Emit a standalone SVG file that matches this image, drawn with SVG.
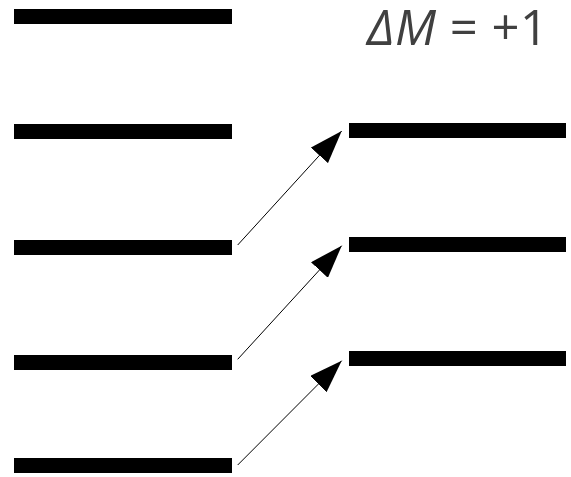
<svg xmlns="http://www.w3.org/2000/svg" width="571" height="477" viewBox="0 0 571 477">
<style>
.lvl{fill:#000;}
.arr{stroke:#000;stroke-width:1;fill:none;marker-end:url(#ah);}
.lbl{font-family:"Open Sans","Liberation Sans",sans-serif;font-size:49px;fill:#404040;}
</style>
<defs>
<marker id="ah" markerUnits="userSpaceOnUse" markerWidth="34" markerHeight="23" viewBox="0 0 34 23" refX="33" refY="11.5" orient="auto">
<path d="M0,0 L33,11.5 L0,23 z" fill="#000"/>
</marker>
</defs>
<rect width="571" height="477" fill="#fff"/>
<g id="left1"><rect class="lvl" x="14" y="9" width="218" height="15"/></g>
<g id="left2"><rect class="lvl" x="14" y="124" width="218" height="15"/></g>
<g id="left3"><rect class="lvl" x="14" y="240" width="218" height="15"/></g>
<g id="left4"><rect class="lvl" x="14" y="355" width="218" height="15"/></g>
<g id="left5"><rect class="lvl" x="14" y="458" width="218" height="15"/></g>
<g id="right1"><rect class="lvl" x="349" y="123" width="217" height="15"/></g>
<g id="right2"><rect class="lvl" x="349" y="237" width="217" height="15"/></g>
<g id="right3"><rect class="lvl" x="349" y="351" width="217" height="15"/></g>
<g id="connectors">
<line class="arr" x1="237.7" y1="245" x2="341.7" y2="131"/>
<line class="arr" x1="237.7" y1="359.3" x2="341.7" y2="245.7"/>
<line class="arr" x1="237.7" y1="465" x2="341.7" y2="360.7"/>
</g>
<g id="label"><text class="lbl" x="367" y="45" textLength="181" lengthAdjust="spacing"><tspan font-style="italic">ΔM</tspan> = +1</text></g>
</svg>
